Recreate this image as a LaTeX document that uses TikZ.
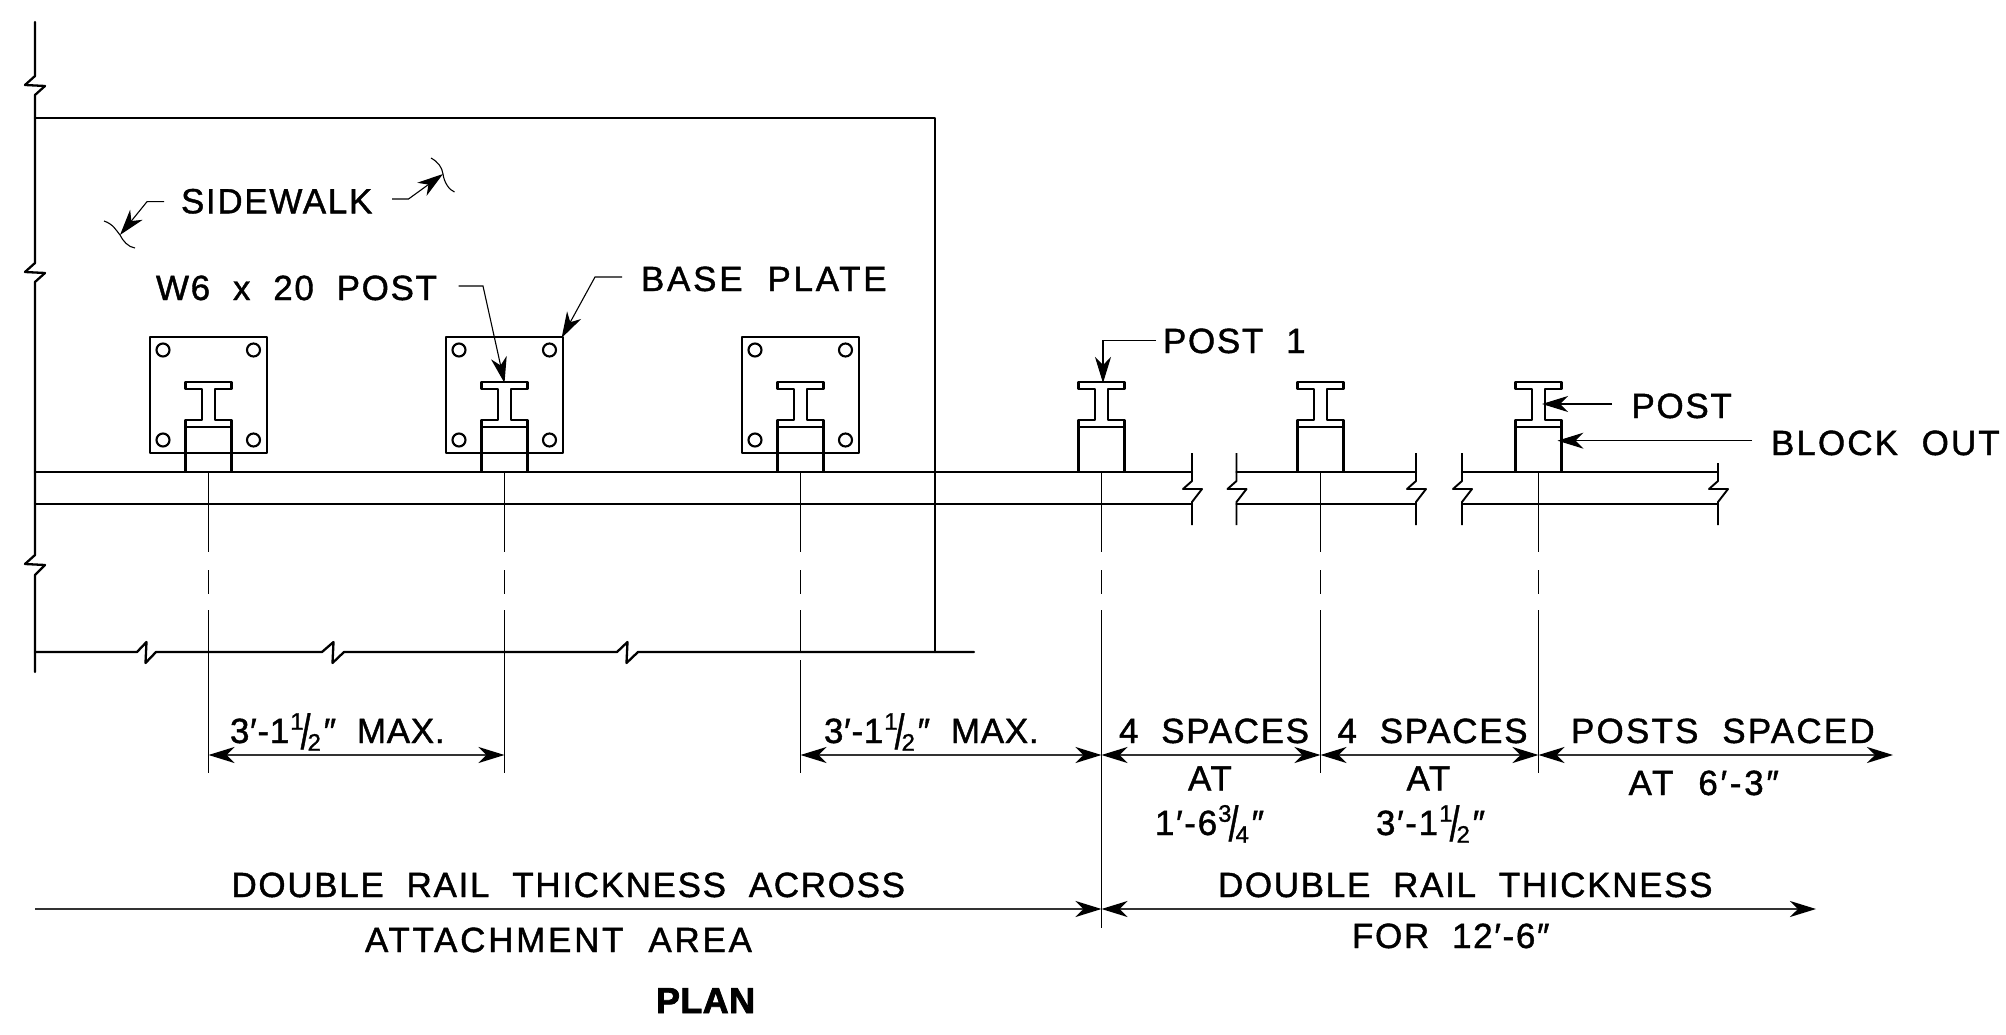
\documentclass[tikz,border=0pt]{standalone}
\usepackage{fontspec}
\usetikzlibrary{arrows.meta}
\setmainfont[LetterSpace=4.8,WordSpace=2,RawFeature={embolden=1.2}]{Liberation Sans}
\newfontfamily\planfont[LetterSpace=1,RawFeature={embolden=2.2}]{Liberation Sans Bold}
\newcommand\frc[2]{\kern.03em\raisebox{.38em}{\scalebox{.68}{#1}}\kern-.08em\raisebox{-.17em}{\scalebox{1}[1.4]{/}}\kern-.08em\raisebox{-.22em}{\scalebox{.68}{#2}}\kern.08em}
\newcommand\wider[1]{\addfontfeature{LetterSpace=#1}}
\tikzset{
  x=1pt,y=-1pt,
  heavy/.style={line width=2.3pt,line join=round,line cap=round},
  thin line/.style={line width=1.1pt},
  dimline/.style={line width=2.1pt,draw=black!80},
  tip/.style={-{Stealth[length=26pt,width=16pt,inset=8pt,color=black,fill=black]}},
  tips/.style={{Stealth[length=26pt,width=16pt,inset=8pt,color=black,fill=black]}-{Stealth[length=26pt,width=16pt,inset=8pt,color=black,fill=black]}},
  lab/.style={anchor=base west,inner sep=0pt,outer sep=0pt,font=\fontsize{35}{35}\selectfont},
  planlab/.style={anchor=base west,inner sep=0pt,outer sep=0pt,font=\fontsize{36}{36}\planfont},
}
\begin{document}
\begin{tikzpicture}
\useasboundingbox (0,0) rectangle (2006,1035);
% named points
\coordinate (p1) at (208.5,0);\coordinate (p2) at (504.5,0);\coordinate (p3) at (800.5,0);
\coordinate (p4) at (1101.5,0);\coordinate (p5) at (1320.5,0);\coordinate (p6) at (1538.5,0);
% walls
\draw[heavy] (35,22)--(35,76)--(25,85)--(45,86)--(35,95)--(35,263)--(25,272)--(45,273)--(35,282)--(35,555)--(25,564)--(45,565)--(35,575)--(35,672);
\draw[heavy] (35,118)--(935,118)--(935,652);
\draw[heavy] (35,652)--(137,652)--(146.5,642)--(145.5,663)--(156,652)--(322,652)--(333.5,642)--(332.5,663)--(344,652)--(617,652)--(627.5,642)--(626.5,663)--(638,652)--(974,652);
% rails
\draw[heavy] (35,472)--(1192,472);\draw[heavy] (35,504)--(1192,504);
\draw[heavy] (1236.5,472)--(1416,472);\draw[heavy] (1236.5,504)--(1416,504);
\draw[heavy] (1462,472)--(1718,472);\draw[heavy] (1462,504)--(1718,504);
\foreach \bx/\tp in {1192/453,1236.5/453,1416/453,1462/453,1718/463}{
  \draw[line width=1.9pt,line join=round] (\bx,\tp)--(\bx,481)--(\bx-9,489)--(\bx+10,489)--(\bx,502)--(\bx,525);
}
% plates
\foreach \c in {208.5,504.5,800.5}{
  \draw[heavy] (\c-58.5,337) rectangle (\c+58.5,453);
  \foreach \dx in {-45.5,45}{\foreach \hy in {350,440}{
    \draw[line width=2.1pt] (\c+\dx,\hy) circle[radius=6.5];}}
}
% posts, blocks, centre lines
\foreach \c in {208.5,504.5,800.5,1101.5,1320.5,1538.5}{
  \draw[heavy,fill=white] (\c-6.5,389)--(\c-23,389)--(\c-23,382)--(\c+23,382)--(\c+23,389)--(\c+6.5,389)--(\c+6.5,420)--(\c+23,420)--(\c+23,427)--(\c-23,427)--(\c-23,420)--(\c-6.5,420)--cycle;
  \draw[heavy] (\c-23,427)--(\c-23,472)--(\c+23,472)--(\c+23,427);
  \draw[thin line] (\c,472)--(\c,552);
  \draw[thin line] (\c,570)--(\c,594);
}
\foreach \c/\e in {208.5/773,504.5/773,1320.5/773,1538.5/773,1101.5/928}{
  \draw[thin line] (\c,610)--(\c,\e);
}
\draw[thin line] (800.5,610)--(800.5,652);
\draw[thin line] (800.5,660)--(800.5,773);
% labels
\node[lab] (sw) at (181,213.3) {SIDEWALK};
\node[lab] (w6) at (156,300) {W6 x 20 POST};
\node[lab] (bp) at (641,291) {\wider{7.8}BASE PLATE};
\node[lab] (po1) at (1163,353) {POST 1};
\node[lab] (po) at (1631.5,418) {POST};
\node[lab] (bo) at (1771,455) {\wider{6}BLOCK OUT};
\node[lab] (m1) at (230,743) {\wider{2}3′-1\frc{1}{2}″ MAX.};
\node[lab] (m2) at (824,743) {\wider{2}3′-1\frc{1}{2}″ MAX.};
\node[lab] (s1) at (1119,743) {4 SPACES};
\node[lab] (s2) at (1337.5,743) {4 SPACES};
\node[lab] (ps) at (1571,743) {\wider{6.3}POSTS SPACED};
\node[lab] (a1) at (1188,790.5) {AT};
\node[lab] (a2) at (1406.5,790.5) {AT};
\node[lab] (a3) at (1628.6,795) {\wider{7.8}AT 6′-3″};
\node[lab] (v1) at (1155,835) {1′-6\frc{3}{4}″};
\node[lab] (v2) at (1376,835) {3′-1\frc{1}{2}″};
\node[lab] (d1) at (231.5,897) {DOUBLE RAIL THICKNESS ACROSS};
\node[lab] (d2) at (1218,897) {DOUBLE RAIL THICKNESS};
\node[lab] (d3) at (365,952) {\wider{7.8}ATTACHMENT AREA};
\node[lab] (d4) at (1352,948) {FOR 12′-6″};
\node[planlab] (plan) at (656,1013) {PLAN};
% leaders
\coordinate (sl0) at (164,201.7);\coordinate (sl1) at (147,201.7);\coordinate (slt) at (120,235);
\coordinate (sr0) at (392,199);\coordinate (sr1) at (408.5,199);\coordinate (srt) at (443,174);
\coordinate (w0) at (458.5,286);\coordinate (w1) at (483,286);\coordinate (wt) at (504.5,383);
\coordinate (b0) at (622,277);\coordinate (b1) at (595,277);\coordinate (bt) at (561.6,338);
\coordinate (o0) at (1156,340.7);\coordinate (o1) at (1103,340.7);\coordinate (ot) at (1103,383);
\coordinate (q0) at (1612,404);\coordinate (qt) at (1542,404);
\coordinate (k0) at (1752,440.7);\coordinate (kt) at (1557.5,440.7);
\draw[thin line,tip] (sl0)--(sl1)--(slt);
\draw[thin line] (104,221) .. controls (113,224) and (116,230) .. (slt) .. controls (123,241) and (128,247) .. (135,248);
\draw[thin line,tip] (sr0)--(sr1)--(srt);
\draw[thin line] (431,158) .. controls (438,162) and (442,167) .. (srt) .. controls (444,182) and (449,190) .. (454.5,192);
\draw[thin line,tip] (w0)--(w1)--(wt);
\draw[thin line,tip] (b0)--(b1)--(bt);
\draw[thin line,tip] (o0)--(o1)--(ot);
\draw[thin line,tip] (q0)--(qt);
\draw[thin line,tip] (k0)--(kt);
% dimensions
\foreach \a/\b/\yy in {p1/p2/755,p3/p4/755,p4/p5/755,p5/p6/755}{
  \draw[dimline,tips] (\a |- 0,\yy)--(\b |- 0,\yy);
}
\coordinate (e1) at (1893,755);\coordinate (e2) at (1816,909);\coordinate (e0) at (35,909);
\draw[dimline,tips] (p6 |- e1)--(e1);
\draw[dimline,-{Stealth[length=26pt,width=16pt,inset=8pt,color=black,fill=black]}] (e0)--(p4 |- e0);
\draw[dimline,tips] (p4 |- e2)--(e2);
\end{tikzpicture}
\end{document}
